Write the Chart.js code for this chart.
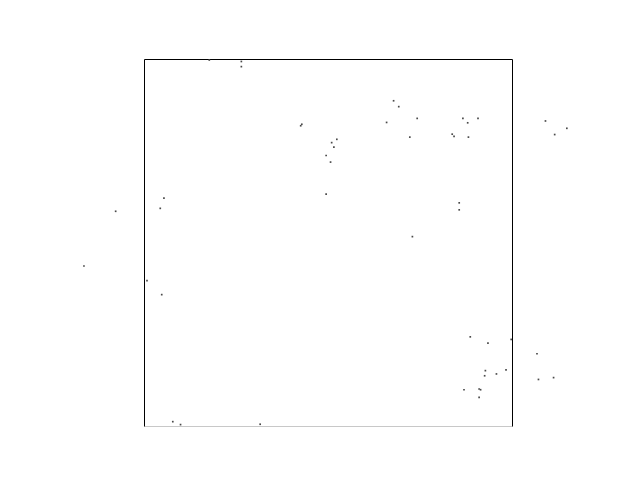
<!DOCTYPE html>
<html>
<head>
<meta charset="utf-8">
<script src="https://cdn.jsdelivr.net/npm/chart.js@4/dist/chart.umd.min.js"></script>
<style>
html,body{margin:0;padding:0;background:#fff;}
#wrap{width:640px;height:480px;}
</style>
</head>
<body>
<div id="wrap"><canvas id="c" width="640" height="480"></canvas></div>
<script>
const xValues = [0.178,0.265,0.265,0.426,0.429,0.678,0.692,0.742,0.659,0.722,
  0.524,0.510,0.516,0.495,0.507,0.495,0.866,0.879,0.907,0.837,
  0.842,0.881,0.856,0.856,1.090,1.148,1.115,0.729,0.055,0.045,
  -0.076,-0.162,0.009,0.049,0.886,0.934,0.997,1.067,0.927,0.925,
  0.957,0.983,0.869,0.910,0.914,0.910,1.071,1.112,0.079,0.100,0.316];
const yValues = [0.997,0.993,0.979,0.818,0.822,0.886,0.870,0.838,0.827,0.787,
  0.781,0.772,0.760,0.737,0.719,0.632,0.838,0.826,0.838,0.795,
  0.789,0.787,0.608,0.589,0.831,0.811,0.794,0.516,0.621,0.593,
  0.585,0.436,0.396,0.358,0.243,0.226,0.236,0.197,0.151,0.137,
  0.142,0.153,0.099,0.101,0.099,0.078,0.127,0.132,0.012,0.004,0.005];
// Visible axes box spans 0..1 on both axes; full view range extends beyond it
const boxRange = [0, 1];
const xView = [-0.3865, 1.3432];
const yView = [-0.1436, 1.1572];

const points = xValues.map((x, i) => ({x: x, y: yValues[i]}));

const frame = {
  id: 'frame',
  beforeDatasetsDraw(chart) {
    const xs = chart.scales.x, ys = chart.scales.y, ctx = chart.ctx;
    const l = Math.round(xs.getPixelForValue(boxRange[0])) + 0.5;
    const r = Math.round(xs.getPixelForValue(boxRange[1])) + 0.5;
    const t = Math.round(ys.getPixelForValue(boxRange[1])) + 0.5;
    const b = Math.round(ys.getPixelForValue(boxRange[0])) + 0.5;
    ctx.save();
    ctx.lineWidth = 1;
    ctx.strokeStyle = '#c8c8c8';
    ctx.beginPath();
    ctx.moveTo(l, b);
    ctx.lineTo(r, b);
    ctx.stroke();
    ctx.strokeStyle = '#000';
    ctx.beginPath();
    ctx.moveTo(l, b);
    ctx.lineTo(l, t);
    ctx.lineTo(r, t);
    ctx.lineTo(r, b);
    ctx.stroke();
    ctx.restore();
  }
};

new Chart(document.getElementById('c'), {
  type: 'scatter',
  data: {
    datasets: [{
      data: points,
      pointStyle: 'rect',
      pointRadius: 1.2,
      pointHoverRadius: 1.2,
      borderWidth: 0,
      backgroundColor: '#4a4a4a',
      clip: false
    }]
  },
  options: {
    responsive: false,
    animation: false,
    events: [],
    layout: {padding: 0},
    plugins: {legend: {display: false}, tooltip: {enabled: false}},
    scales: {
      x: {display: false, min: xView[0], max: xView[1]},
      y: {display: false, min: yView[0], max: yView[1]}
    }
  },
  plugins: [frame]
});
</script>
</body>
</html>
